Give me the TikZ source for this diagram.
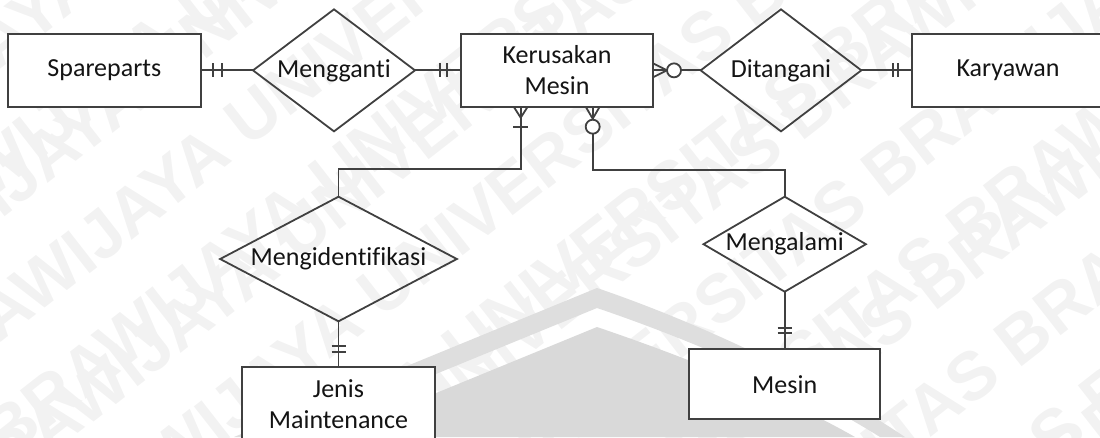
\documentclass[tikz,border=0pt]{standalone}
\usepackage{fontspec}
\setmainfont{Carlito}[Ligatures=NoCommon]
\newfontfamily\wmfont{Liberation Sans}
\usetikzlibrary{shapes.geometric,calc}

\definecolor{edge}{HTML}{404040}
\definecolor{ink}{HTML}{141414}
\definecolor{logoband}{HTML}{DEDEDE}
\definecolor{logofill}{HTML}{D9D9D9}
\definecolor{wmgray}{HTML}{F2F2F2}

\begin{document}
\begin{tikzpicture}[x=1pt,y=-1pt,
  lbl/.style={font=\fontsize{26}{31}\selectfont, text=ink, align=center},
  entity/.style={lbl, rectangle, draw=edge, line width=1.8pt, fill=white,
    inner sep=0pt, outer sep=0pt},
  rel/.style={lbl, diamond, draw=edge, line width=1.8pt,
    inner sep=0pt, outer sep=0pt},
  conn/.style={draw=edge, line width=1.8pt},
  wm/.style={font=\wmfont\bfseries\fontsize{68}{70}\selectfont, text=wmgray,
    inner sep=0pt}]

\useasboundingbox (0,0) rectangle (1100,437);
\clip (0,0) rectangle (1100,437);

% background lettering, repeated in slanted rows
\foreach \k in {-10,...,10}{
  \node[wm, rotate=38] (wm\k) at ({550+44.3*\k+40*mod(\k+20,3)}, {218+56.7*\k})
    {UNIVERSITAS BRAWIJAYA UNIVERSITAS BRAWIJAYA UNIVERSITAS};
}

% grey roof emblem
\fill[logoband] (234,437) -- (597,288) .. controls (700,323) and (820,380) .. (905,437)
  -- (880,437) .. controls (805,390) and (700,343) .. (597,308) -- (282,437) -- cycle;
\fill[logofill] (329,437) -- (597,327) .. controls (700,362) and (790,400) .. (855,437) -- cycle;

% entities
\node[entity, minimum width=193.3, minimum height=72.7] (spare) at (104.35,70.35) {Spareparts};
\node[entity, minimum width=192, minimum height=72.7] (kerus) at (557,70.35) {Kerusakan\\Mesin};
\node[entity, minimum width=192, minimum height=72.7] (karyawan) at (1008,70.35) {Karyawan};
\node[entity, minimum width=192.3, minimum height=74.6] (jenis) at (338.5,404) {Jenis\\Maintenance};
\node[entity, minimum width=190.7, minimum height=70] (mesin) at (784.7,384.3) {Mesin};

% relationships
\node[rel, shape aspect=1.27, minimum width=162, minimum height=122] (mengganti) at (334,70.35) {Mengganti};
\node[rel, shape aspect=1.32, minimum width=160.7, minimum height=122] (ditangani) at (781,70.35) {Ditangani};
\node[rel, shape aspect=1.9, minimum width=236.7, minimum height=124.6] (mengid) at (338.5,259) {Mengidentifikasi};
\node[rel, shape aspect=1.71, minimum width=162.4, minimum height=95] (mengalami) at (784.7,244.2) {Mengalami};

% Spareparts -- Mengganti -- Kerusakan Mesin
\draw[conn] (spare) -- (mengganti);
\draw[conn] ($(spare.east)+(12,-7)$) -- ++(0,14);
\draw[conn] ($(spare.east)+(21,-7)$) -- ++(0,14);
\draw[conn] (mengganti) -- (kerus);
\draw[conn] ($(kerus.west)+(-21,-7)$) -- ++(0,14);
\draw[conn] ($(kerus.west)+(-14,-7)$) -- ++(0,14);

% Kerusakan Mesin -- Ditangani -- Karyawan
\draw[conn] (kerus) -- (ditangani);
\draw[conn] ($(kerus.east)+(0,-7)$) -- ($(kerus.east)+(14,0)$) -- ($(kerus.east)+(0,7)$);
\draw[conn, fill=white] ($(kerus.east)+(21,0)$) circle (7);
\draw[conn] (ditangani) -- (karyawan);
\draw[conn] ($(karyawan.west)+(-19,-7)$) -- ++(0,14);
\draw[conn] ($(karyawan.west)+(-14,-7)$) -- ++(0,14);

% Kerusakan Mesin -- Mengidentifikasi -- Jenis Maintenance
\coordinate (portA) at ($(kerus.south west)+(59.7,0)$);
\draw[conn] (portA) -- ++(0,62) -| (mengid.north);
\draw[conn] ($(portA)+(-7,0)$) -- ($(portA)+(0,11)$) -- ($(portA)+(7,0)$);
\draw[conn] ($(portA)+(-7.5,20)$) -- ++(15,0);
\draw[conn] (mengid.south) -- (jenis.north);
\draw[conn] ($(jenis.north)+(-7,-21)$) -- ++(14,0);
\draw[conn] ($(jenis.north)+(-7,-15)$) -- ++(14,0);

% Kerusakan Mesin -- Mengalami -- Mesin
\coordinate (portB) at ($(kerus.south west)+(131.7,0)$);
\draw[conn] (portB) -- ++(0,63) -| (mengalami.north);
\draw[conn] ($(portB)+(-7,0)$) -- ($(portB)+(0,12)$) -- ($(portB)+(7,0)$);
\draw[conn, fill=white] ($(portB)+(0,20)$) circle (7);
\draw[conn] (mengalami.south) -- (mesin.north);
\draw[conn] ($(mesin.north)+(-7,-21)$) -- ++(14,0);
\draw[conn] ($(mesin.north)+(-7,-16)$) -- ++(14,0);
\end{tikzpicture}
\end{document}
